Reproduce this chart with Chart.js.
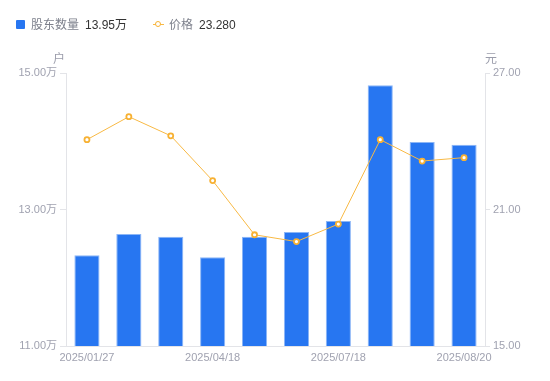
<!DOCTYPE html>
<html><head><meta charset="utf-8">
<script src="https://cdn.jsdelivr.net/npm/chart.js@4/dist/chart.umd.min.js"></script>
<style>
html,body{margin:0;padding:0;background:#fff;}
#wrap{position:relative;width:550px;height:381px;font-family:"Liberation Sans","Noto Sans CJK SC",sans-serif;}
canvas{position:absolute;left:0;top:0;}
.lg{position:absolute;top:16px;font-size:12px;line-height:18px;white-space:nowrap;}
.lbl{color:#7d808c;}
.val{color:#333;margin-left:6px;}
.unit{position:absolute;top:49px;font-size:12px;color:#9a9caa;}
</style></head>
<body><div id="wrap">
<canvas id="c" width="550" height="381"></canvas>
<div class="lg" style="left:16px;"><span style="display:inline-block;width:9px;height:9px;background:#2776f1;border-radius:1px;margin-right:6px;vertical-align:-0px;"></span><span class="lbl">股东数量</span><span class="val">13.95万</span></div>
<div class="lg" style="left:153px;"><span style="display:inline-block;position:relative;width:11px;height:9px;margin-right:5px;vertical-align:0px;"><span style="position:absolute;left:0;top:4px;width:11px;height:1px;background:#f8b944;"></span><span style="position:absolute;left:2px;top:1px;width:4px;height:4px;border:1.5px solid #f7b133;border-radius:50%;background:#fff;"></span></span><span class="lbl">价格</span><span class="val">23.280</span></div>
<div class="unit" style="left:53px;">户</div>
<div class="unit" style="left:485px;">元</div>
</div>
<script>
const categories = ["2025/01/27","2025/02/28","2025/03/20","2025/04/18","2025/05/20","2025/06/20","2025/07/18","2025/07/31","2025/08/10","2025/08/20"];
const holders = [12.33,12.64,12.60,12.30,12.60,12.67,12.83,14.82,13.99,13.95];
const prices = [24.07,25.08,24.24,22.27,19.89,19.59,20.36,24.07,23.13,23.28];
const leftTicks = [11,13,15];
const rightTicks = [15,21,27];

const tickFont = {family:'"Liberation Sans","Noto Sans CJK SC",sans-serif', size:11};
const tickColor = '#a0a2b0';
const axisColor = '#e3e4e8';

new Chart(document.getElementById('c'), {
  data: {
    labels: categories,
    datasets: [
      {type:'line', label:'价格', data:prices, yAxisID:'y1', borderColor:'#f8b944', borderWidth:1,
       pointRadius:2.5, pointBorderWidth:1.8, pointBackgroundColor:'#fff', pointBorderColor:'#f7b133', tension:0, order:0},
      {type:'bar', label:'股东数量', data:holders, yAxisID:'y', backgroundColor:'#2776f1', borderColor:'#8cb6f6',
       borderWidth:{top:1,left:1,right:1,bottom:0}, barPercentage:0.6, categoryPercentage:1, order:1}
    ]
  },
  options: {
    responsive:false, animation:false,
    layout:{padding:{top:73,left:0,right:0,bottom:0}},
    plugins:{legend:{display:false}, tooltip:{enabled:false}},
    scales:{
      x:{
        grid:{display:true, drawOnChartArea:false, drawTicks:false, color:axisColor},
        border:{color:axisColor},
        ticks:{autoSkip:false, maxRotation:0, color:tickColor, font:tickFont, padding:5,
          callback:(v,i)=> (i%3===0 ? categories[i] : '')},
        afterFit:(s)=>{s.height=35;}
      },
      y:{
        position:'left', min:11, max:15,
        afterBuildTicks:(s)=>{s.ticks=leftTicks.map(v=>({value:v}));},
        grid:{drawOnChartArea:false, drawTicks:true, tickLength:6, color:axisColor},
        border:{color:axisColor},
        ticks:{color:tickColor, font:tickFont, padding:3, callback:(v)=>v.toFixed(2)+'万'},
        afterFit:(s)=>{s.width=66;}
      },
      y1:{
        position:'right', min:15, max:27,
        afterBuildTicks:(s)=>{s.ticks=rightTicks.map(v=>({value:v}));},
        grid:{drawOnChartArea:false, drawTicks:true, tickLength:5, color:axisColor},
        border:{color:axisColor},
        ticks:{color:tickColor, font:tickFont, padding:3, callback:(v)=>v.toFixed(2)},
        afterFit:(s)=>{s.width=65;}
      }
    }
  }
});
</script>
</body></html>
